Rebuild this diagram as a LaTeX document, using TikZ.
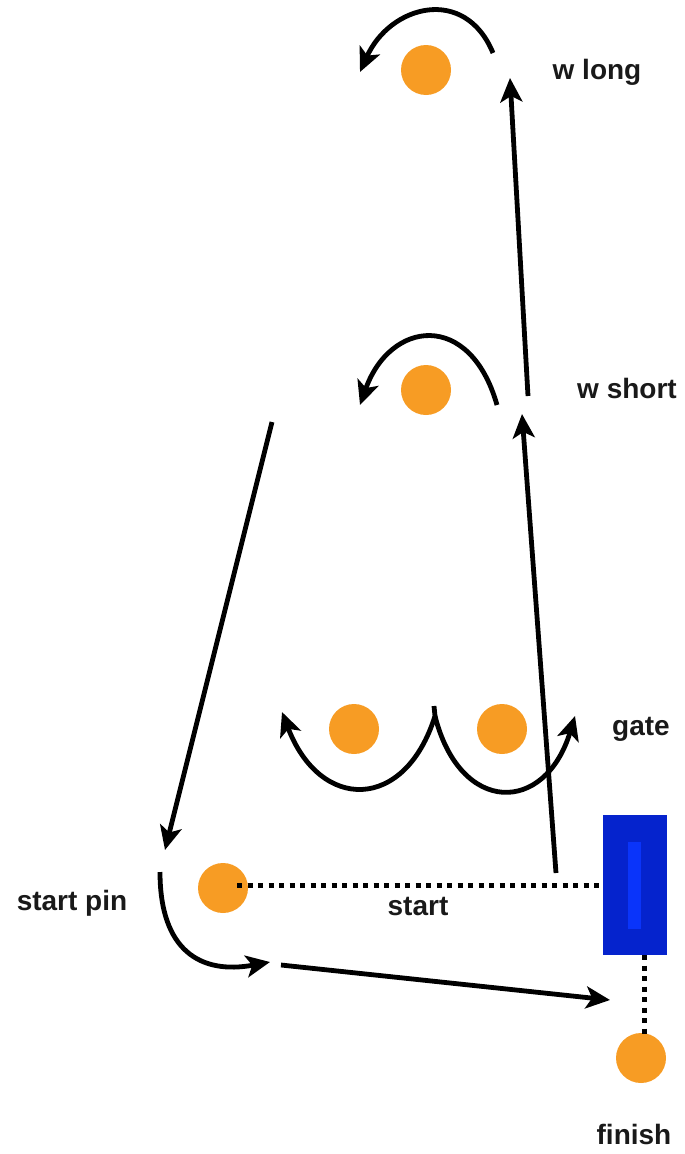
\documentclass[tikz,border=0pt]{standalone}
\usepackage{fontspec}
\setmainfont{Liberation Sans}
\usetikzlibrary{arrows.meta}
\definecolor{pinorange}{RGB}{247,156,36}
\definecolor{gateblue}{RGB}{5,35,205}
\definecolor{barblue}{RGB}{10,52,250}
\begin{document}
\begin{tikzpicture}[x=1pt,y=-1pt,
  pin/.style={circle,fill=pinorange,minimum size=50pt,inner sep=0pt},
  lbl/.style={font=\fontsize{28}{33}\selectfont\bfseries,text=black!90,inner sep=0pt},
  arr/.style={line width=4.8pt,-{Stealth[length=24pt,width=22pt,inset=6pt]}},
  dots/.style={line width=5pt,dash pattern=on 5pt off 5.5pt},
]
\useasboundingbox (0,0) rectangle (685,1154);
% pins
\node[pin] (wl) at (426,70) {};
\node[pin] (ws) at (426,390) {};
\node[pin] (gl) at (354,729) {};
\node[pin] (gr) at (502,729) {};
\node[pin] (sp) at (223,888) {};
\node[pin] (fin) at (641,1058) {};
% gate box
\node[fill=gateblue,minimum width=64pt,minimum height=140pt,inner sep=0pt] (gatebox) at (635,885) {};
\node[fill=barblue,minimum width=13pt,minimum height=87pt,inner sep=0pt] (bar) at (634.5,885.5) {};
% labels
\node[lbl] (lwl) at (597,72) {w long};
\node[lbl] (lws) at (627,388) {w short};
\node[lbl] (lgate) at (641,729) {gate};
\node[lbl] (lsp) at (72,903) {start pin};
\node[lbl] (lst) at (418,906) {start};
\node[lbl] (lfin) at (634,1134) {finish};
% dotted lines
\coordinate (d1) at (237,885);
\draw[dots] (d1) -- (d1 -| gatebox.west);
\coordinate (d2) at (644,955);
\draw[dots] (d2) -- (644,1038);
% straight arrows
\coordinate (a1s) at (556,873); \coordinate (a1e) at (522,414);
\draw[arr] (a1s) -- (a1e);
\coordinate (a2s) at (528,396); \coordinate (a2e) at (510,78);
\draw[arr] (a2s) -- (a2e);
\coordinate (a3s) at (272,422); \coordinate (a3e) at (165,850);
\draw[arr] (a3s) -- (a3e);
\coordinate (a4s) at (281,965); \coordinate (a4e) at (610,1000);
\draw[arr] (a4s) -- (a4e);
% curved arrows
\coordinate (c1s) at (493,53); \coordinate (c1e) at (360,72);
\draw[arr] (c1s) .. controls (465,-15) and (390,5) .. (c1e);
\coordinate (c2s) at (497,405); \coordinate (c2e) at (360,405);
\draw[arr] (c2s) .. controls (470,310) and (390,320) .. (c2e);
\coordinate (c3s) at (434,706); \coordinate (c3e) at (282,712);
\draw[arr] (c3s) -- (435,716) .. controls (405,812) and (320,812) .. (c3e);
\coordinate (c4s) at (435,716); \coordinate (c4e) at (575,716);
\draw[arr] (c4s) .. controls (460,815) and (545,815) .. (c4e);
\coordinate (c5s) at (160,872); \coordinate (c5e) at (270,962);
\draw[arr] (c5s) .. controls (160,950) and (200,975) .. (c5e);
\end{tikzpicture}
\end{document}
